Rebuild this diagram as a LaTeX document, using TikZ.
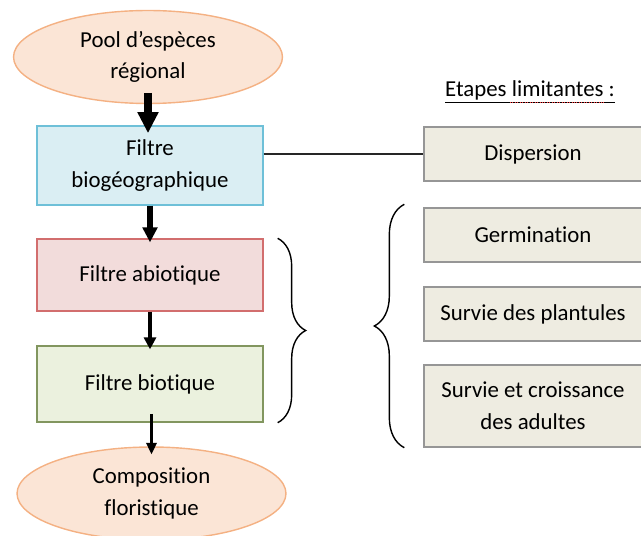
\documentclass[tikz,border=0pt]{standalone}
\usepackage{fontspec}
\setmainfont{Carlito}[Ligatures={NoCommon,NoContextual}]
\usepackage{tikz}
\usetikzlibrary{arrows.meta,shapes.geometric,decorations.pathreplacing,calc}

\definecolor{ovalfill}{RGB}{251,229,214}
\definecolor{ovaldraw}{RGB}{244,177,131}
\definecolor{biofill}{RGB}{218,238,243}
\definecolor{biodraw}{RGB}{110,192,216}
\definecolor{abiofill}{RGB}{242,220,219}
\definecolor{abiodraw}{RGB}{210,110,110}
\definecolor{biotfill}{RGB}{235,241,222}
\definecolor{biotdraw}{RGB}{130,150,95}
\definecolor{etapefill}{RGB}{238,236,225}
\definecolor{etapedraw}{RGB}{150,150,150}

\begin{document}
\begin{tikzpicture}[x=0.02cm,y=-0.02cm,
  every node/.style={font=\fontsize{13}{18}\selectfont,align=center},
  ovale/.style={ellipse,draw=ovaldraw,fill=ovalfill,line width=0.8pt,
    minimum width=5.38cm,minimum height=1.86cm,inner sep=0pt},
  filtre/.style={rectangle,line width=0.8pt,minimum width=4.52cm,inner sep=0pt},
  etape/.style={rectangle,draw=etapedraw,fill=etapefill,line width=0.8pt,
    minimum width=4.36cm,inner sep=0pt},
  accolade/.style={decorate,line width=0.8pt}]
\useasboundingbox (0,0) rectangle (641,536);

% colonne des filtres
\node[ovale] (pool) at (148,57) {Pool d'espèces\\régional};
\node[filtre,draw=biodraw,fill=biofill,minimum height=1.58cm] (bio) at (150,165.5) {Filtre\\biogéographique};
\node[filtre,draw=abiodraw,fill=abiofill,minimum height=1.44cm] (abio) at (150,275) {Filtre abiotique};
\node[filtre,draw=biotdraw,fill=biotfill,minimum height=1.52cm] (biot) at (150,384) {Filtre biotique};
\node[ovale] (compo) at (151.5,493.5) {Composition\\floristique};

% etapes limitantes
\node (titre) at (530,92) {\underline{Etapes limitantes :}};
\draw[red!75,densely dotted,line width=0.4pt] (510,102) -- (605,102);
\node[etape,minimum height=1.08cm] (disp) at (533,154) {Dispersion};
\node[etape,minimum height=1.08cm] (germ) at (533,235) {Germination};
\node[etape,minimum height=1.08cm] (plant) at (533,314) {Survie des plantules};
\node[etape,minimum height=1.64cm] (adult) at (533,406) {Survie et croissance\\des adultes};

% fleches
\draw[line width=4pt,-{Triangle[length=12pt,width=11.3pt]},shorten <=-6.5pt,shorten >=-4.5pt]
  (pool.south) -- (pool.south |- bio.north);
\draw[line width=3.4pt,-{Triangle[length=8.5pt,width=8.2pt]},shorten >=-2.3pt]
  (bio.south) -- (abio.north);
\draw[line width=2.3pt,-{Triangle[length=6.8pt,width=6.8pt]},shorten >=-2.3pt]
  (abio.south) -- (biot.north);
\draw[line width=1.2pt,-{Triangle[length=6.5pt,width=6pt]},shorten <=-5pt,shorten >=-4.5pt]
  (compo.north |- biot.south) -- (compo.north);
\draw[line width=0.8pt,black!85] (bio.east |- disp.west) -- (disp.west);

% accolades
\draw[accolade,decoration={brace,amplitude=0.56cm}]
  ($(abio.north east)+(14,0)$) -- ($(biot.south east)+(14,0)$);
\draw[accolade,decoration={brace,amplitude=0.6cm}]
  ($(adult.south west)+(-19,0)$) -- ($(germ.north west)+(-19,-3)$);
\end{tikzpicture}
\end{document}
